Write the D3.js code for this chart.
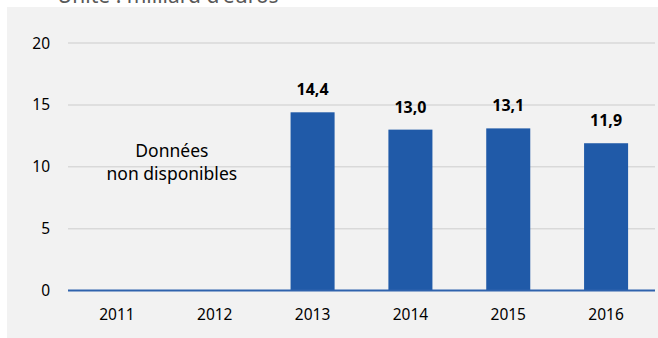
<!DOCTYPE html>
<html>
<head>
<meta charset="utf-8">
<script src="https://cdn.jsdelivr.net/npm/d3@7"></script>
<style>
  body { margin: 0; background: #fff; }
  svg { display: block; font-family: "Noto Sans", sans-serif; }
</style>
</head>
<body>
<div id="chart"></div>
<script>
// data
const years = ["2011", "2012", "2013", "2014", "2015", "2016"];
const values = [null, null, 14.4, 13.0, 13.1, 11.9];
const yTicks = [0, 5, 10, 15, 20];
const unitLabel = "Unité : milliard d'euros";
const noteLines = ["Données", "non disponibles"];

const W = 658, H = 338;
const margin = { top: 43, right: 3, bottom: 47.5, left: 68 };
const width = W - margin.left - margin.right;
const height = H - margin.top - margin.bottom;

const svg = d3.select("#chart")
  .append("svg")
  .attr("width", W)
  .attr("height", H);

// grey panel
svg.append("rect")
  .attr("x", 7)
  .attr("y", 7)
  .attr("width", W - 7)
  .attr("height", H - 7)
  .attr("fill", "#f2f2f2");

// unit label, cut off by the top edge like in the original
svg.append("text")
  .attr("x", 57)
  .attr("y", 3)
  .attr("fill", "#595959")
  .style("font-size", "21px")
  .text(unitLabel);

const g = svg.append("g")
  .attr("transform", `translate(${margin.left},${margin.top})`);

const x = d3.scaleBand()
  .domain(years)
  .range([0, width])
  .paddingInner(0.55)
  .paddingOuter(0.275);

const y = d3.scaleLinear()
  .domain([0, 20])
  .range([height, 0]);

// gridlines
g.selectAll(".grid")
  .data(yTicks.filter(d => d > 0))
  .enter()
  .append("line")
  .attr("x1", 0)
  .attr("x2", width)
  .attr("y1", d => y(d))
  .attr("y2", d => y(d))
  .attr("stroke", "#d9d9d9")
  .attr("stroke-width", 1.5);

// y tick labels
g.selectAll(".ytick")
  .data(yTicks)
  .enter()
  .append("text")
  .attr("x", -18)
  .attr("y", d => y(d))
  .attr("dy", "0.36em")
  .attr("text-anchor", "end")
  .attr("fill", "#000")
  .style("font-size", "15.5px")
  .text(d => d);

// bars
const data = years.map((yr, i) => ({ year: yr, value: values[i] }));

g.selectAll(".bar")
  .data(data.filter(d => d.value != null))
  .enter()
  .append("rect")
  .attr("class", "bar")
  .attr("x", d => x(d.year))
  .attr("y", d => y(d.value))
  .attr("width", x.bandwidth())
  .attr("height", d => height - y(d.value))
  .attr("fill", "#205aa8");

// value labels
g.selectAll(".val")
  .data(data.filter(d => d.value != null))
  .enter()
  .append("text")
  .attr("x", d => x(d.year) + x.bandwidth() / 2)
  .attr("y", d => y(d.value) - 17)
  .attr("text-anchor", "middle")
  .attr("fill", "#000")
  .style("font-size", "16px")
  .style("font-weight", "bold")
  .text(d => d.value.toFixed(1).replace(".", ","));

// x axis line
g.append("line")
  .attr("x1", 0)
  .attr("x2", width)
  .attr("y1", height)
  .attr("y2", height)
  .attr("stroke", "#2f63ad")
  .attr("stroke-width", 2);

// x tick labels
g.selectAll(".xtick")
  .data(years)
  .enter()
  .append("text")
  .attr("x", d => x(d) + x.bandwidth() / 2)
  .attr("y", height + 29)
  .attr("text-anchor", "middle")
  .attr("fill", "#000")
  .style("font-size", "15.5px")
  .text(d => d);

// "no data" note over 2011-2012
const noteX = (x("2011") + x("2012") + x.bandwidth()) / 2 + 6;
noteLines.forEach((t, i) => {
  g.append("text")
    .attr("x", noteX)
    .attr("y", 114 + i * 23)
    .attr("text-anchor", "middle")
    .attr("fill", "#000")
    .style("font-size", "17.5px")
    .text(t);
});
</script>
</body>
</html>
